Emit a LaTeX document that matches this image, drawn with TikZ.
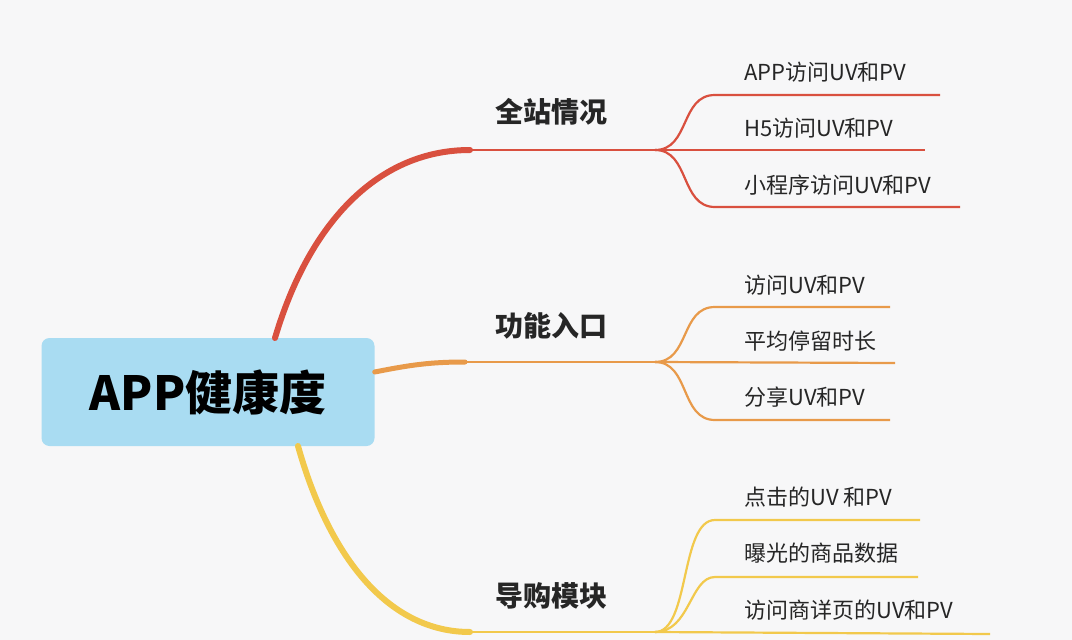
\documentclass[tikz,border=0pt]{standalone}
\usepackage{fontspec}
\setmainfont{Noto Sans CJK SC}
\definecolor{bg}{HTML}{F7F7F8}
\definecolor{rootc}{HTML}{A9DCF2}
\definecolor{cR}{HTML}{D9503F}
\definecolor{cO}{HTML}{E89A4A}
\definecolor{cY}{HTML}{F2C94C}
\tikzset{
  main/.style={line cap=round},
  sub/.style={line width=2.2pt},
  lab/.style={anchor=west, inner sep=0pt, font=\fontsize{22}{22}\selectfont, text=black!85},
  blab/.style={inner sep=0pt, font=\fontsize{28}{28}\selectfont\bfseries, text=black!85}
}
\begin{document}
\begin{tikzpicture}[x=1pt,y=-1pt]
\fill[bg] (0,0) rectangle (1072,640);
\useasboundingbox (0,0) rectangle (1072,640);
\node[fill=rootc, rounded corners=8pt, minimum width=333pt, minimum height=108pt, inner sep=0pt,
  font=\fontsize{47}{47}\selectfont\bfseries] (root) at (208,392) {APP健康度};
% branch 1
\coordinate (r1) at (275,338); \coordinate (h1) at (655,150);
\draw[cR, main, line width=6pt] (r1) .. controls (310,220) and (380,150) .. (470,150);
\draw[cR, sub] (470,150) -- (h1);
\node[blab] (b1) at (551,112) {全站情况};
\coordinate (e11) at (940,95); \coordinate (e12) at (925,150); \coordinate (e13) at (960,207);
\draw[cR, sub] (h1) .. controls (690,150) and (680,95) .. (715,95) -- (e11);
\draw[cR, sub] (h1) -- (e12);
\draw[cR, sub] (h1) .. controls (690,150) and (680,207) .. (715,207) -- (e13);
\node[lab] (t11) at (744,72) {APP访问UV和PV};
\node[lab] (t12) at (744,128) {H5访问UV和PV};
\node[lab] (t13) at (744,185) {小程序访问UV和PV};
% branch 2
\coordinate (h2) at (655,362);
\draw[cO, main, line width=5pt] (root.east|-0,372) .. controls (410,365) and (430,362) .. (465,362);
\draw[cO, sub] (465,362) -- (h2);
\node[blab] (b2) at (551,326) {功能入口};
\coordinate (e21) at (890,307); \coordinate (e22) at (895,363); \coordinate (e23) at (890,420);
\draw[cO, sub] (h2) .. controls (690,362) and (680,307) .. (715,307) -- (e21);
\draw[cO, sub] (h2) -- (e22);
\draw[cO, sub] (h2) .. controls (690,362) and (680,420) .. (715,420) -- (e23);
\node[lab] (t21) at (744,285) {访问UV和PV};
\node[lab] (t22) at (744,341) {平均停留时长};
\node[lab] (t23) at (744,397) {分享UV和PV};
% branch 3
\coordinate (r3) at (298,446); \coordinate (h3) at (655,632);
\draw[cY, main, line width=6pt] (r3) .. controls (330,560) and (390,632) .. (470,632);
\draw[cY, sub] (470,632) -- (h3);
\node[blab] (b3) at (551,596) {导购模块};
\coordinate (e31) at (920,520); \coordinate (e32) at (918,577); \coordinate (e33) at (990,634);
\draw[cY, sub] (h3) .. controls (690,632) and (680,520) .. (715,520) -- (e31);
\draw[cY, sub] (h3) .. controls (690,632) and (690,577) .. (715,577) -- (e32);
\draw[cY, sub] (h3) -- (e33);
\node[lab] (t31) at (744,497) {点击的UV 和PV};
\node[lab] (t32) at (744,553) {曝光的商品数据};
\node[lab] (t33) at (744,610) {访问商详页的UV和PV};
\end{tikzpicture}
\end{document}
